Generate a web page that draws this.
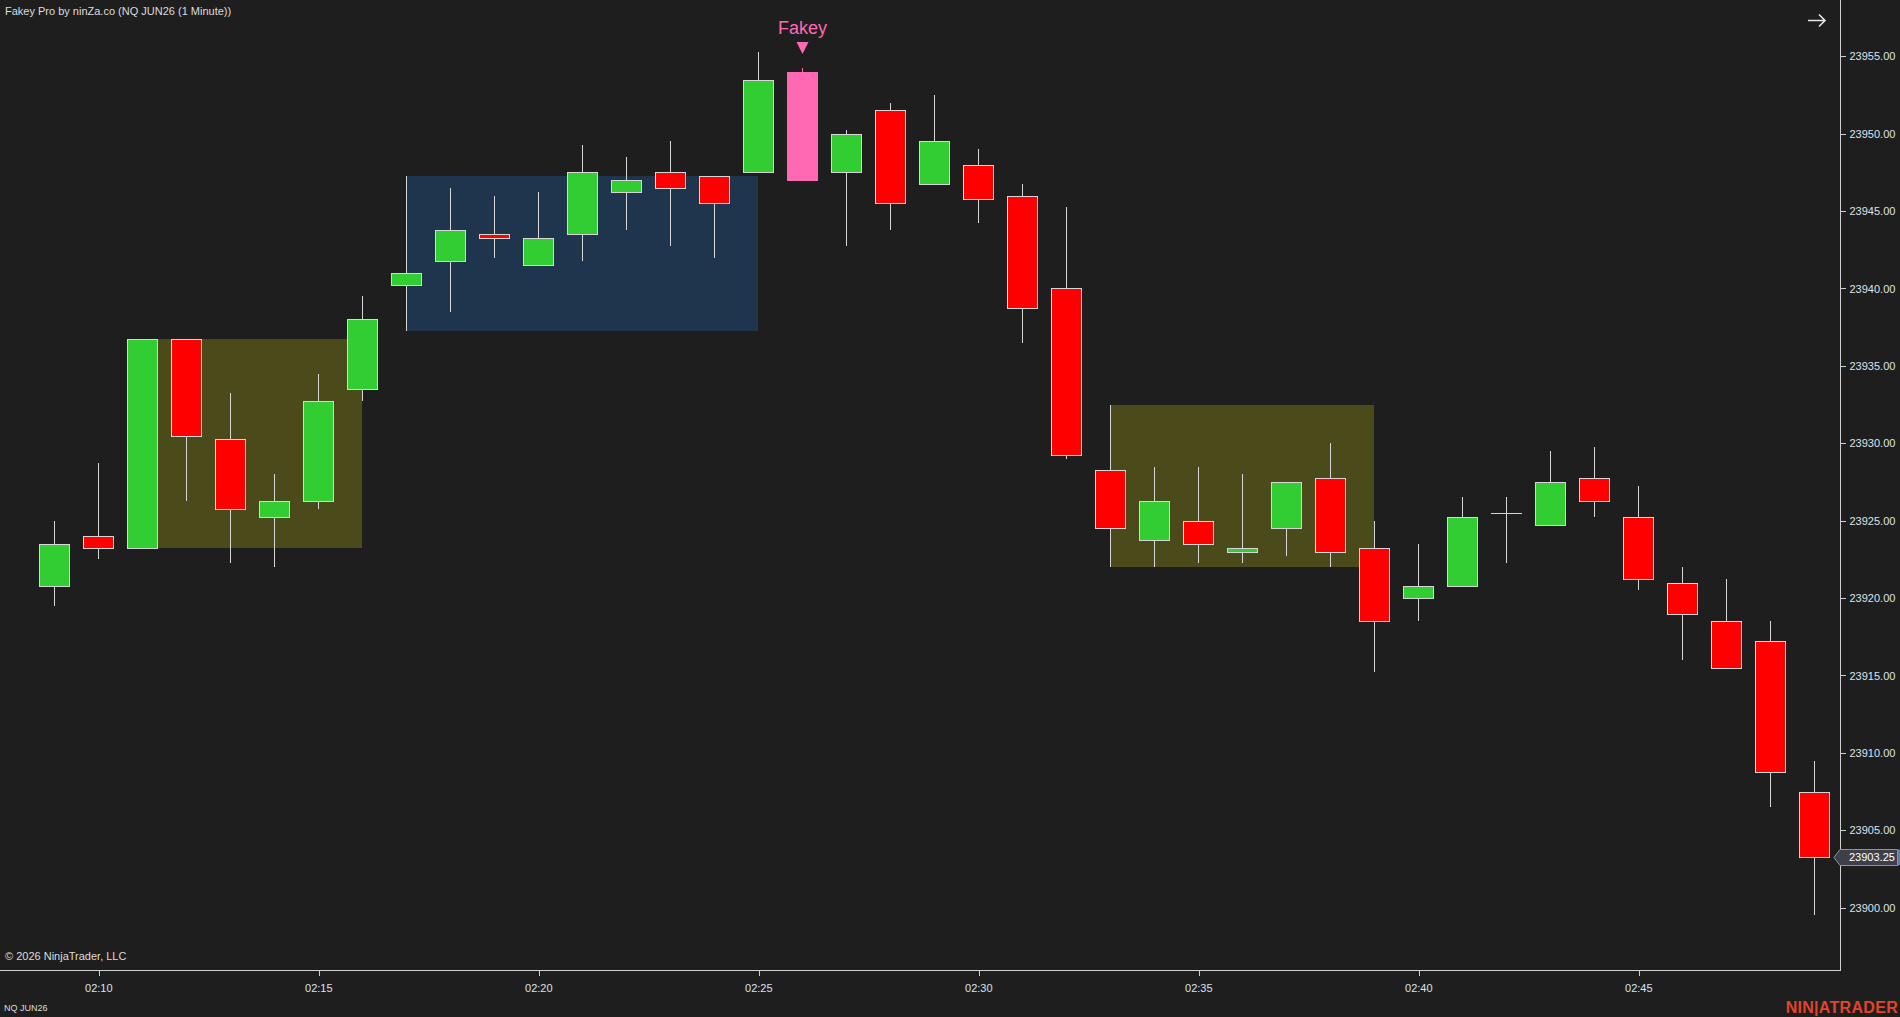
<!DOCTYPE html>
<html>
  <head>
    <meta charset="utf-8" />
    <title>Fakey Pro - NQ JUN26 (1 Minute)</title>
    <style>
      html, body {
        margin: 0;
        padding: 0;
        background: #1e1e1e;
        overflow: hidden;
      }
      svg {
        display: block;
        font-family: "Liberation Sans", Arial, sans-serif;
      }
      .axis text {
        fill: #dde2ea;
        font-size: 11px;
      }
      .axis line,
      .axis path {
        stroke: #cfcfcf;
        shape-rendering: crispEdges;
      }
      .wick {
        stroke: #d6d6d6;
        stroke-width: 1px;
        shape-rendering: crispEdges;
      }
      .body {
        stroke: #d6d6d6;
        stroke-width: 1px;
        shape-rendering: crispEdges;
      }
    </style>
  </head>
  <body>
    <svg id="chart"></svg>

    <script src="https://d3js.org/d3.v7.min.js"></script>
    <script>
      // 1 minute bars, NQ JUN26
      const times = [
        "02:09", "02:10", "02:11", "02:12", "02:13", "02:14", "02:15", "02:16",
        "02:17", "02:18", "02:19", "02:20", "02:21", "02:22", "02:23", "02:24",
        "02:25", "02:26", "02:27", "02:28", "02:29", "02:30", "02:31", "02:32",
        "02:33", "02:34", "02:35", "02:36", "02:37", "02:38", "02:39", "02:40",
        "02:41", "02:42", "02:43", "02:44", "02:45", "02:46", "02:47", "02:48",
        "02:49"
      ];
      const opens = [
        23920.75, 23924, 23923.25, 23936.75, 23930.25, 23925.25, 23926.25, 23933.5,
        23940.25, 23941.75, 23943.5, 23941.5, 23943.5, 23946.25, 23947.5, 23947.25,
        23947.5, 23954, 23947.5, 23951.5, 23946.75, 23948, 23946, 23940,
        23928.25, 23923.75, 23925, 23923, 23924.5, 23927.75, 23923.25, 23920,
        23920.75, 23925.5, 23924.75, 23927.75, 23925.25, 23921, 23918.5, 23917.25,
        23907.5
      ];
      const highs = [
        23925, 23928.75, 23936.75, 23936.75, 23933.25, 23928, 23934.5, 23939.5,
        23947.25, 23946.5, 23946, 23946.25, 23949.25, 23948.5, 23949.5, 23947.25,
        23955.25, 23954.25, 23950.25, 23952, 23952.5, 23949, 23946.75, 23945.25,
        23932.5, 23928.5, 23928.5, 23928, 23927.5, 23930, 23925, 23923.5,
        23926.5, 23926.5, 23929.5, 23929.75, 23927.25, 23922, 23921.25, 23918.5,
        23909.5
      ];
      const lows = [
        23919.5, 23922.5, 23923.25, 23926.25, 23922.25, 23922, 23925.75, 23932.75,
        23937.25, 23938.5, 23942, 23941.5, 23941.75, 23943.75, 23942.75, 23942,
        23947.5, 23947, 23942.75, 23943.75, 23946.75, 23944.25, 23936.5, 23929,
        23922, 23922, 23922.25, 23922.25, 23922.75, 23922, 23915.25, 23918.5,
        23920.75, 23922.25, 23924.75, 23925.25, 23920.5, 23916, 23915.5, 23906.5,
        23899.5
      ];
      const closes = [
        23923.5, 23923.25, 23936.75, 23930.5, 23925.75, 23926.25, 23932.75, 23938,
        23941, 23943.75, 23943.25, 23943.25, 23947.5, 23947, 23946.5, 23945.5,
        23953.5, 23947, 23950, 23945.5, 23949.5, 23945.75, 23938.75, 23929.25,
        23924.5, 23926.25, 23923.5, 23923.25, 23927.5, 23923, 23918.5, 23920.75,
        23925.25, 23925.5, 23927.5, 23926.25, 23921.25, 23919, 23915.5, 23908.75,
        23903.25
      ];

      // range boxes: first bar, last bar, built from the first bar's high / low
      const zoneStarts = ["02:11", "02:17", "02:33"];
      const zoneEnds = ["02:16", "02:25", "02:39"];
      const zoneKinds = ["olive", "blue", "olive"];

      // fakey signal
      const signalTimes = ["02:26"];
      const signalLabels = ["Fakey"];

      const priceTicks = [23900, 23905, 23910, 23915, 23920, 23925, 23930, 23935, 23940, 23945, 23950, 23955];
      const timeTicks = ["02:10", "02:15", "02:20", "02:25", "02:30", "02:35", "02:40", "02:45"];

      const width = 1900;
      const height = 1017;
      const plotRight = 1840;
      const plotBottom = 970;

      const parseTime = d3.timeParse("%H:%M");
      const formatTime = d3.timeFormat("%H:%M");

      const bars = times.map((t, i) => ({
        t: parseTime(t),
        open: opens[i],
        high: highs[i],
        low: lows[i],
        close: closes[i],
      }));
      const signalSet = new Set(signalTimes);

      const minute = 60 * 1000;
      const xScale = d3
        .scaleTime()
        .domain([
          new Date(parseTime("02:09").getTime() - 1.234 * minute),
          new Date(parseTime("02:49").getTime() + 0.584 * minute),
        ])
        .range([0, plotRight]);

      const yScale = d3
        .scaleLinear()
        .domain([23895.975, 23958.636])
        .range([plotBottom, 0]);

      const svg = d3
        .select("#chart")
        .attr("width", width)
        .attr("height", height);

      svg
        .append("rect")
        .attr("width", width)
        .attr("height", height)
        .attr("fill", "#1e1e1e");

      const zoneColor = { olive: "#4b4a1a", blue: "#1f344d" };

      // zones
      zoneStarts.forEach((s, i) => {
        const first = bars[times.indexOf(s)];
        const x0 = Math.round(xScale(parseTime(s)));
        const x1 = Math.round(xScale(parseTime(zoneEnds[i])));
        const y0 = Math.round(yScale(first.high));
        const y1 = Math.round(yScale(first.low));
        svg
          .append("rect")
          .attr("x", x0)
          .attr("y", y0)
          .attr("width", x1 - x0)
          .attr("height", y1 - y0)
          .attr("fill", zoneColor[zoneKinds[i]]);
      });

      // candles
      const halfBody = 15;
      const candles = svg.append("g").attr("class", "candles");

      bars.forEach((d, i) => {
        const cx = Math.round(xScale(d.t));
        const isSignal = signalSet.has(times[i]);
        const up = d.close > d.open;
        const fill = isSignal ? "#ff69b4" : up ? "#32cd32" : "#ff0000";
        const yTop = yScale(Math.max(d.open, d.close));
        const yBot = yScale(Math.min(d.open, d.close));

        candles
          .append("line")
          .attr("class", "wick")
          .attr("x1", cx + 0.5)
          .attr("x2", cx + 0.5)
          .attr("y1", yScale(d.high))
          .attr("y2", yScale(d.low))
          .style("stroke", isSignal ? fill : null);

        if (d.open === d.close) {
          candles
            .append("line")
            .attr("class", "wick")
            .attr("x1", cx - halfBody)
            .attr("x2", cx + halfBody + 1)
            .attr("y1", Math.round(yTop) + 0.5)
            .attr("y2", Math.round(yTop) + 0.5);
          return;
        }

        const rect = candles
          .append("rect")
          .attr("x", cx - halfBody + 0.5)
          .attr("y", Math.round(yTop) + 0.5)
          .attr("width", halfBody * 2)
          .attr("height", Math.max(1, Math.round(yBot) - Math.round(yTop)))
          .attr("fill", fill);
        if (isSignal) {
          rect
            .attr("x", cx - halfBody)
            .attr("y", Math.round(yTop))
            .attr("width", halfBody * 2 + 1)
            .attr("height", Math.round(yBot) - Math.round(yTop) + 1);
        } else {
          rect.attr("class", "body");
        }
      });

      // signal markers
      signalTimes.forEach((s, i) => {
        const d = bars[times.indexOf(s)];
        const cx = Math.round(xScale(d.t)) + 0.5;
        const yHigh = yScale(d.high);
        const tip = yHigh - 14;
        svg
          .append("path")
          .attr("d", `M${cx - 6},${tip - 12}L${cx + 6},${tip - 12}L${cx},${tip}Z`)
          .attr("fill", "#ff69b4");
        svg
          .append("text")
          .attr("x", cx)
          .attr("y", tip - 20)
          .attr("text-anchor", "middle")
          .attr("fill", "#ff69b4")
          .style("font-size", "18px")
          .text(signalLabels[i]);
      });

      // axes
      svg
        .append("g")
        .attr("class", "axis x-axis")
        .attr("transform", `translate(0,${plotBottom + 0.5})`)
        .call(
          d3
            .axisBottom(xScale)
            .tickValues(timeTicks.map(parseTime))
            .tickFormat(formatTime)
            .tickSize(5)
            .tickSizeOuter(0)
            .tickPadding(9)
        );

      svg
        .append("g")
        .attr("class", "axis y-axis")
        .attr("transform", `translate(${plotRight + 0.5},0)`)
        .call(
          d3
            .axisRight(yScale)
            .tickValues(priceTicks)
            .tickFormat(d3.format(".2f"))
            .tickSize(5)
            .tickSizeOuter(0)
            .tickPadding(4)
        );

      // tidy axis domains so they meet at the corner
      svg.select(".x-axis .domain").attr("d", `M0,0H${plotRight}`);
      svg.select(".y-axis .domain").attr("d", `M0,0V${plotBottom + 0.5}`);
      svg.selectAll(".x-axis .tick line").attr("transform", "translate(0.5,0)");

      // last price marker
      const last = bars[bars.length - 1];
      const yLast = Math.round(yScale(last.close)) + 0.5;
      svg
        .append("path")
        .attr(
          "d",
          `M${plotRight - 6},${yLast}L${plotRight},${yLast - 8}H${width - 2.5}V${yLast + 8}H${plotRight}Z`
        )
        .attr("fill", "#3f3f4a")
        .attr("stroke", "#8796ab")
        .attr("stroke-width", 1);
      svg
        .append("rect")
        .attr("x", width - 2)
        .attr("y", yLast - 8)
        .attr("width", 2)
        .attr("height", 16)
        .attr("fill", "#5a7fae");
      svg
        .append("text")
        .attr("x", plotRight + 9)
        .attr("y", yLast)
        .attr("dy", "0.35em")
        .attr("fill", "#ffffff")
        .style("font-size", "11px")
        .text(d3.format(".2f")(last.close));

      // header / footer text
      svg
        .append("text")
        .attr("x", 5)
        .attr("y", 15)
        .attr("fill", "#dcdcdc")
        .style("font-size", "11px")
        .text("Fakey Pro by ninZa.co (NQ JUN26 (1 Minute))");

      svg
        .append("path")
        .attr("d", "M1808,20.5H1825M1819,14.5L1825,20.5L1819,26.5")
        .attr("fill", "none")
        .attr("stroke", "#e6e6e6")
        .attr("stroke-width", 1.6);

      svg
        .append("text")
        .attr("x", 5)
        .attr("y", 960)
        .attr("fill", "#dcdcdc")
        .style("font-size", "11px")
        .text("© 2026 NinjaTrader, LLC");

      svg
        .append("text")
        .attr("x", 4)
        .attr("y", 1011)
        .attr("fill", "#dcdcdc")
        .style("font-size", "9px")
        .text("NQ JUN26");

      svg
        .append("text")
        .attr("x", 1898)
        .attr("y", 1013)
        .attr("text-anchor", "end")
        .attr("fill", "#e2442a")
        .style("font-size", "16px")
        .style("font-weight", "bold")
        .style("letter-spacing", "0.3px")
        .text("NIN|ATRADER");
    </script>
  </body>
</html>
